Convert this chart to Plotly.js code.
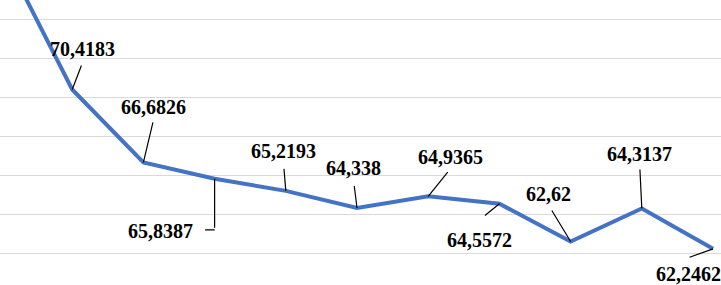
<!DOCTYPE html>
<html>
<head>
<meta charset="utf-8">
<script src="https://cdn.plot.ly/plotly-3.0.1.min.js"></script>
<style>html,body{margin:0;padding:0;background:#fff;}#chart{width:721px;height:285px;}</style>
</head>
<body>
<div id="chart"></div>
<script>
// Data (first point lies above the visible area and has no label)
const categories = [0, 1, 2, 3, 4, 5, 6, 7, 8, 9, 10];
const values = [77.6, 70.4183, 66.6826, 65.8387, 65.2193, 64.338, 64.9365, 64.5572, 62.62, 64.3137, 62.2462];
const labelText = ["", "70,4183", "66,6826", "65,8387", "65,2193", "64,338", "64,9365", "64,5572", "62,62", "64,3137", "62,2462"];

// Label placement (pixel offsets of text centre from the point) and leader ends
const labelDX = [0, 10, 10.5, -54, -2.5, -4, 22, -19.5, -22.5, -2.5, -25];
const labelDY = [0, -41, -55, 52, -40, -40, -39, 36, -48, -55, 25];
const leadDX = [0, 10, 10, 0, -2, -3, 21, -16, -20, -2, -25];
const leadDY = [0, -26, -42, 51, -24, -24, -26, 13, -33, -41, 9];

const font = {family: "'Liberation Serif', 'Times New Roman', Times, serif", size: 20, color: "#000", weight: "bold"};
const annotations = [];
for (let i = 0; i < categories.length; i++) {
  if (!labelText[i]) continue;
  annotations.push({
    x: categories[i], y: values[i], xref: "x", yref: "y",
    text: labelText[i], showarrow: false, font: font,
    xshift: labelDX[i], yshift: -labelDY[i], xanchor: "center", yanchor: "middle"
  });
  annotations.push({
    x: categories[i], y: values[i], xref: "x", yref: "y",
    text: " ", font: {size: 1}, showarrow: true, arrowhead: 0, arrowwidth: 1.2,
    arrowcolor: "#000", ax: leadDX[i], ay: leadDY[i], standoff: 0
  });
}
// elbow on the 65,8387 leader
annotations.push({
  x: categories[3], y: values[3], xref: "x", yref: "y",
  text: " ", font: {size: 1}, showarrow: true, arrowhead: 0, arrowwidth: 1.2,
  arrowcolor: "#000", ax: -11, ay: 0, yshift: -51, standoff: 0
});

const trace = {
  x: categories, y: values, type: "scatter", mode: "lines",
  line: {color: "#4472C4", width: 4}, hoverinfo: "none"
};

const layout = {
  width: 721, height: 285,
  margin: {l: 0, r: 0, t: 0, b: 0},
  paper_bgcolor: "#fff", plot_bgcolor: "#fff",
  showlegend: false,
  xaxis: {range: [-0.014, 10.112], showgrid: false, zeroline: false, showticklabels: false, showline: false, ticks: ""},
  yaxis: {range: [60.39, 75.01], dtick: 2, tick0: 0, showgrid: true, gridcolor: "#d9d9d9", gridwidth: 1.5,
          zeroline: false, showticklabels: false, showline: false, ticks: ""},
  annotations: annotations
};

Plotly.newPlot("chart", [trace], layout, {staticPlot: true, displayModeBar: false});
</script>
</body>
</html>
